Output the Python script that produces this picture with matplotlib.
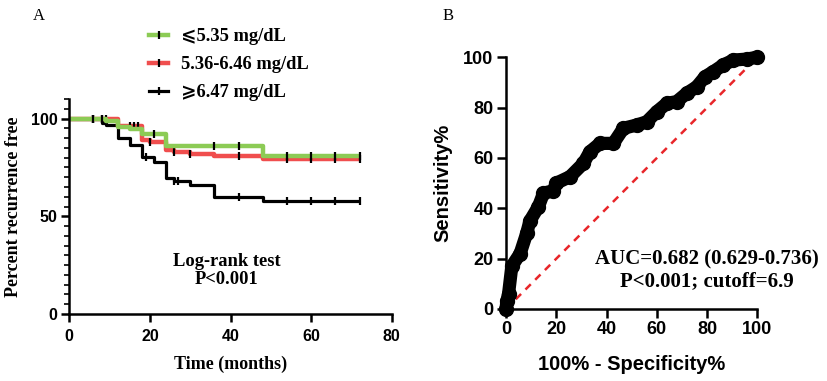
import numpy as np
import matplotlib
matplotlib.use("Agg")
from matplotlib import pyplot as plt
from matplotlib.lines import Line2D

# Kaplan-Meier steps (months, percent recurrence free)
green_t = [0, 9, 12, 15, 18, 24, 48, 72]
green_s = [100, 99, 95.5, 94.5, 92, 86, 81, 81]
green_cens = [6, 8, 21, 36, 42, 54, 60, 66, 72]

red_t = [0, 12, 18, 20, 24, 26, 30, 36, 48, 72]
red_s = [100, 96, 89, 88, 84, 83, 82, 81, 79.5, 79.5]
red_cens = [6, 8, 9, 15, 16, 17, 20, 26, 30, 42, 54, 60, 66, 72]

black_t = [0, 8, 9, 12, 15, 18, 21, 24, 26, 30, 36, 48, 72]
black_s = [100, 98, 96.5, 90, 86.5, 80.5, 78, 69.5, 68, 66, 60, 58, 58]
black_cens = [6, 19, 26, 27, 42, 54, 60, 66, 72]

groups = ["⩽5.35 mg/dL", "5.36-6.46 mg/dL", "⩾6.47 mg/dL"]

# ROC curve (100% - specificity, sensitivity)
roc_x = [0, 0.3, 1, 2.3, 5.6, 8.2, 9.5, 12.9, 14.9, 18.8, 20, 25.5, 30.8, 33.4,
         37.4, 42.7, 46.7, 52, 56, 60, 64, 67.9, 71.9, 75.9, 79.2, 82.5, 86.5,
         90.5, 95.8, 99.7]
roc_y = [0, 3, 6, 17, 22, 30, 35, 40.7, 46, 47, 50, 52.6, 57.9, 62.5,
         65.8, 65.8, 71.8, 73.1, 74.4, 78.4, 81.7, 82.4, 85.7, 88.3, 92.3, 94.3, 97,
         98.9, 99.3, 100]

serif = ["Liberation Serif", "DejaVu Sans"]
sans = ["Liberation Sans", "DejaVu Sans"]

fig = plt.figure(figsize=(8.27, 3.81), dpi=100)

# ---- panel A ----
ax = fig.add_axes([0.0838, 0.1759, 0.39, 0.564])


def level(t, s, c):
    idx = np.searchsorted(t, c, side="right") - 1
    return np.array(s)[idx]


curves = [
    (black_t, black_s, black_cens, "black", 2.3),
    (red_t, red_s, red_cens, "#f04e4e", 3.2),
    (green_t, green_s, green_cens, "#8ccb55", 3.2),
]
for t, s, c, col, lw in curves:
    ax.step(t, s, where="post", color=col, lw=lw, solid_capstyle="butt")
    ax.plot(c, level(t, s, c), ls="none", marker="|", ms=6, mew=1.6,
            color="black", clip_on=False)

ax.set_xlim(0, 80)
ax.set_ylim(0, 110)
ax.set_xticks([0, 20, 40, 60, 80])
ax.set_yticks([0, 50, 100])
ax.set_yticks(np.arange(0, 111, 5), minor=True)
for sp in ["top", "right"]:
    ax.spines[sp].set_visible(False)
for sp in ["left", "bottom"]:
    ax.spines[sp].set_linewidth(1.8)
ax.tick_params(width=1.8, length=6, pad=2.5)
ax.tick_params(axis="x", pad=5)
ax.tick_params(axis="y", which="minor", width=1.2, length=3.5)
for lab in ax.get_xticklabels() + ax.get_yticklabels():
    lab.set_fontfamily(sans)
    lab.set_fontweight("bold")
    lab.set_fontsize(11.5)
ax.set_xlabel("Time (months)", family=serif, weight="bold", fontsize=13, labelpad=8)
ax.set_ylabel("Percent recurrence free", family=serif, weight="bold", fontsize=13,
              labelpad=6)
ax.text(39, 22.4, "Log-rank test\nP<0.001", ha="center", va="center",
        family=serif, weight="bold", fontsize=13.3, linespacing=1.05)

handles = [Line2D([], [], color=col, lw=lw, marker="|", ms=6, mew=1.6, mec="black")
           for _, _, _, col, lw in curves[::-1]]
fig.legend(handles, groups, loc="upper left", bbox_to_anchor=(0.16, 0.97),
           frameon=False, handlelength=1.05, handletextpad=0.7, labelspacing=0.6,
           prop={"family": serif, "weight": "bold", "size": 13.3})

fig.text(0.04, 0.958, "A", family=serif, fontsize=12, ha="left", va="center")

# ---- panel B ----
bx = fig.add_axes([0.6119, 0.189, 0.3039, 0.6606])
bx.plot([0, 100], [0, 100], color="#e8262a", lw=1.8, ls=(0, (3, 2.5)))
bx.plot(roc_x, roc_y, color="black", lw=9.5, solid_joinstyle="round",
        solid_capstyle="round", marker="o", ms=10, clip_on=False)
bx.set_xlim(0, 100)
bx.set_ylim(0, 100)
bx.set_xticks(np.arange(0, 101, 20))
bx.set_yticks(np.arange(0, 101, 20))
for sp in ["top", "right"]:
    bx.spines[sp].set_visible(False)
for sp in ["left", "bottom"]:
    bx.spines[sp].set_linewidth(1.8)
bx.tick_params(width=1.8, length=6.5, pad=2.5)
for lab in bx.get_xticklabels() + bx.get_yticklabels():
    lab.set_fontfamily(sans)
    lab.set_fontweight("bold")
    lab.set_fontsize(13)
bx.set_xlabel("100% - Specificity%", family=sans, weight="bold", fontsize=14.5,
              labelpad=12)
bx.set_ylabel("Sensitivity%", family=sans, weight="bold", fontsize=14.5, labelpad=8)
bx.text(80, 15.3, "AUC=0.682 (0.629-0.736)\nP<0.001; cutoff=6.9", ha="center",
        va="center", family=serif, weight="bold", fontsize=15, linespacing=1.1)

fig.text(0.535, 0.958, "B", family=serif, fontsize=12, ha="left", va="center")

fig.savefig("out.png", dpi=100)
